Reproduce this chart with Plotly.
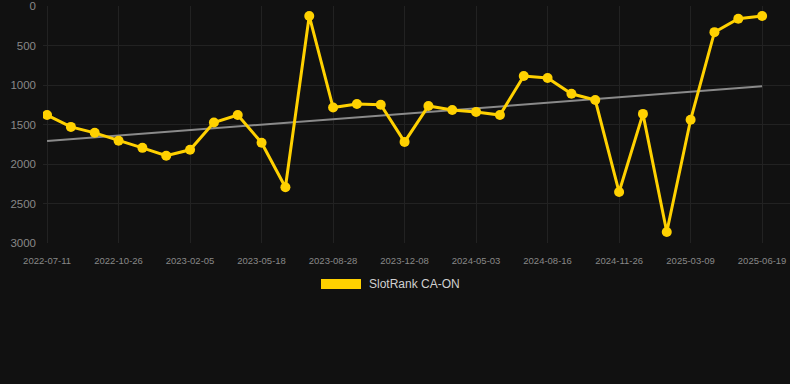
import numpy as np
import plotly.graph_objects as go

tick_labels = ["2022-07-11", "2022-10-26", "2023-02-05", "2023-05-18", "2023-08-28",
               "2023-12-08", "2024-05-03", "2024-08-16", "2024-11-26", "2025-03-09", "2025-06-19"]
tick_idx = list(range(0, 31, 3))

ranks = [1380, 1530, 1605, 1705, 1795, 1895, 1820, 1475, 1380, 1730,
         2295, 125, 1285, 1240, 1250, 1720, 1265, 1315, 1340, 1380,
         885, 910, 1110, 1190, 2355, 1365, 2860, 1440, 330, 160, 125]
series_name = "SlotRank CA-ON"

idx = np.arange(len(ranks))
coef = np.polyfit(idx, ranks, 1)
trend = np.polyval(coef, idx[[0, -1]])

YELLOW = "#FFD100"
W, H = 790, 384
ML, MR, MT, MB = 43, 0, 6, 141
pw, ph = W - ML - MR, H - MT - MB

def px_x(p):
    return (p - ML) / pw

def px_y(p):
    return (H - MB - p) / ph

fig = go.Figure()
fig.add_trace(go.Scatter(x=idx[[0, -1]], y=trend, mode="lines",
                         line=dict(color="#8a8a8a", width=2), showlegend=False, hoverinfo="skip"))
fig.add_trace(go.Scatter(x=idx, y=ranks, mode="lines+markers", name=series_name,
                         line=dict(color=YELLOW, width=3),
                         marker=dict(color=YELLOW, size=10), showlegend=False))

# legend swatch + label
fig.add_shape(type="rect", xref="paper", yref="paper",
              x0=px_x(321), x1=px_x(361), y0=px_y(289), y1=px_y(279),
              fillcolor=YELLOW, line=dict(width=0))
fig.add_annotation(xref="paper", yref="paper", x=px_x(367), y=px_y(284),
                   xanchor="left", yanchor="middle", showarrow=False,
                   text=series_name, font=dict(size=12, color="#d0d0d0"))

fig.update_layout(
    width=W, height=H,
    paper_bgcolor="#111111", plot_bgcolor="#111111",
    margin=dict(l=ML, r=MR, t=MT, b=MB),
    font=dict(family="Liberation Sans, Arial, sans-serif", color="#888888"),
    showlegend=False,
)
fig.update_xaxes(range=[-0.17, 31.17], tickmode="array", tickvals=tick_idx, ticktext=tick_labels,
                 tickfont=dict(size=9.5, color="#888888"), showgrid=True, gridcolor="#222222",
                 zeroline=False, showline=False, ticks="", ticklabelstandoff=10)
fig.update_yaxes(range=[3000, -1], tickvals=[0, 500, 1000, 1500, 2000, 2500, 3000],
                 tickfont=dict(size=11.5, color="#888888"), showgrid=True, gridcolor="#222222",
                 zeroline=False, showline=False, ticks="", ticklabelstandoff=6)

fig.write_html("out.html", config={"displayModeBar": False},
               post_script="document.body.style.margin='0';document.body.style.background='#111111';")
